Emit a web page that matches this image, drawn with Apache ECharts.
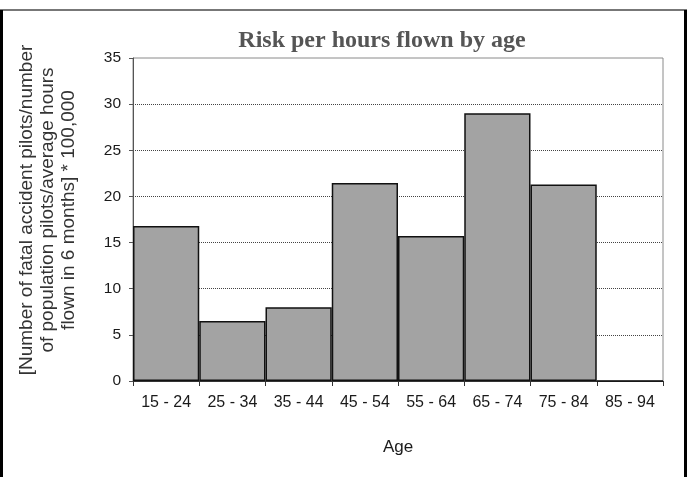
<!DOCTYPE html>
<html>
<head>
<meta charset="utf-8">
<script src="https://cdn.jsdelivr.net/npm/echarts@6/dist/echarts.min.js"></script>
<style>html,body{margin:0;padding:0;background:#fff;}#c{width:689px;height:477px;}</style>
</head>
<body>
<div id="c"></div>
<script>
const categories = ['15 - 24', '25 - 34', '35 - 44', '45 - 54', '55 - 64', '65 - 74', '75 - 84', '85 - 94'];
const riskValues = [16.8, 6.5, 8.0, 21.45, 15.7, 29.0, 21.3, 0];
const titleText = 'Risk per hours flown by age';
const xAxisTitle = 'Age';
const yAxisTitle = '[Number of fatal accident pilots/number\nof population pilots/average hours\nflown in 6 months] * 100,000';

const chart = echarts.init(document.getElementById('c'), null, {renderer: 'canvas'});
chart.setOption({
  backgroundColor: '#ffffff',
  animation: false,
  title: {
    text: titleText,
    left: 377,
    textAlign: 'center',
    top: 24,
    textStyle: {fontFamily: 'Liberation Serif', fontWeight: 'bold', fontSize: 24, color: '#555555'}
  },
  grid: {left: 133, right: 26, top: 58, bottom: 96, show: true, borderColor: '#8a8a8a', borderWidth: 1},
  xAxis: {
    type: 'category',
    data: categories,
    axisLine: {lineStyle: {color: '#333333', width: 1}},
    axisTick: {show: true, length: 5, lineStyle: {color: '#333333'}},
    axisLabel: {fontFamily: 'Liberation Sans', fontSize: 16, color: '#1a1a1a', margin: 14},
    name: xAxisTitle,
    nameLocation: 'middle',
    nameGap: 58,
    nameTextStyle: {fontFamily: 'Liberation Sans', fontSize: 17, color: '#1a1a1a'}
  },
  yAxis: {
    type: 'value',
    min: 0,
    max: 35,
    interval: 5,
    axisLine: {show: true, lineStyle: {color: '#555555', width: 1}},
    axisTick: {show: true, length: 4, lineStyle: {color: '#555555'}},
    axisLabel: {fontFamily: 'Liberation Sans', fontSize: 15.5, color: '#1a1a1a', margin: 12},
    splitLine: {show: true, showMinLine: false, showMaxLine: false, lineStyle: {color: '#444444', width: 1, type: [1, 1]}},
    name: yAxisTitle,
    nameLocation: 'middle',
    nameRotate: 90,
    nameGap: 54,
    nameTextStyle: {fontFamily: 'Liberation Sans', fontSize: 19, lineHeight: 21, color: '#333333', align: 'center', padding: [0, 0, 0, 19]}
  },
  series: [{
    type: 'bar',
    data: riskValues,
    barCategoryGap: '0%',
    itemStyle: {color: '#a3a3a3', borderColor: '#111111', borderWidth: 1.5}
  }],
  graphic: [
    {type: 'line', z: 100, shape: {x1: 0, y1: 10, x2: 687, y2: 10}, style: {stroke: '#777777', lineWidth: 2}},
    {type: 'rect', z: 100, shape: {x: 0, y: 10, width: 3, height: 467}, style: {fill: '#000000'}},
    {type: 'rect', z: 100, shape: {x: 684, y: 10, width: 3, height: 467}, style: {fill: '#000000'}}
  ]
});
</script>
</body>
</html>
